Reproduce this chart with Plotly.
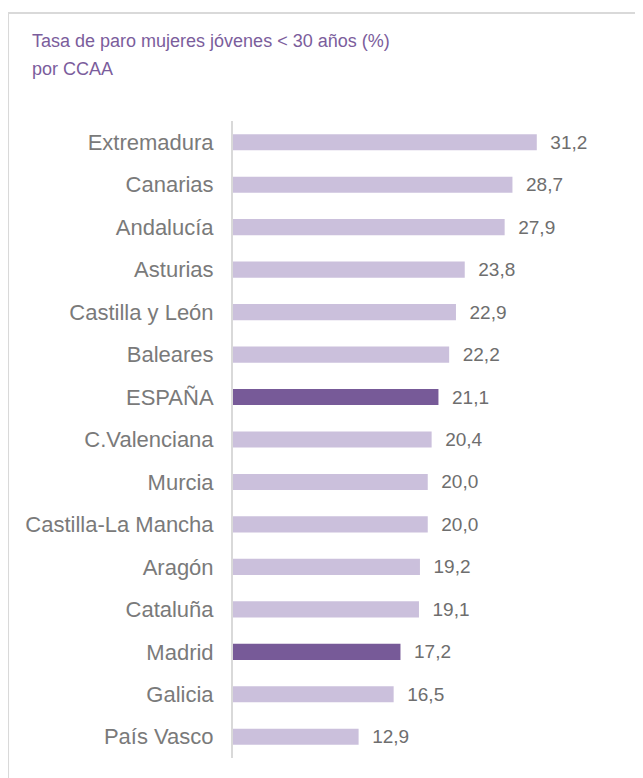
import plotly.graph_objects as go

# Comunidades autónomas (de arriba a abajo)
regions = ['Extremadura', 'Canarias', 'Andalucía', 'Asturias', 'Castilla y León',
           'Baleares', 'ESPAÑA', 'C.Valenciana', 'Murcia', 'Castilla-La Mancha',
           'Aragón', 'Cataluña', 'Madrid', 'Galicia', 'País Vasco']

# Tasa de paro mujeres < 30 años (%)
rate = [31.2, 28.7, 27.9, 23.8, 22.9, 22.2, 21.1, 20.4, 20.0, 20.0,
        19.2, 19.1, 17.2, 16.5, 12.9]

highlight = ['ESPAÑA', 'Madrid']

light = '#cbc0dc'
dark = '#775a98'
colors = [dark if r in highlight else light for r in regions]
labels = ['\u00a0\u00a0' + f'{v:.1f}'.replace('.', ',') for v in rate]

fig = go.Figure(go.Bar(
    x=rate,
    y=regions,
    orientation='h',
    marker=dict(color=colors, line=dict(width=0)),
    text=labels,
    textposition='outside',
    constraintext='none',
    textfont=dict(family='Liberation Sans, Arial', size=19, color='#6e6e6e'),
    cliponaxis=False,
    hoverinfo='skip',
))

# page has an 8px body margin, so the figure is shifted by 8px
fig.update_layout(
    width=635, height=770,
    margin=dict(l=225, r=40, t=113, b=20),
    paper_bgcolor='white', plot_bgcolor='white',
    bargap=0.62,
    showlegend=False,
    font=dict(family='Liberation Sans, Arial'),
    annotations=[
        dict(text='Tasa de paro mujeres jóvenes < 30 años (%)', xref='paper', yref='paper',
             x=(30 - 233) / 370, y=(758 - 41) / 637, xanchor='left', yanchor='middle',
             showarrow=False, font=dict(size=18, color='#7b5d9c')),
        dict(text='por CCAA', xref='paper', yref='paper',
             x=(30 - 233) / 370, y=(758 - 69) / 637, xanchor='left', yanchor='middle',
             showarrow=False, font=dict(size=18, color='#7b5d9c')),
    ],
    shapes=[
        dict(type='line', xref='paper', yref='paper', x0=-0.608, x1=1.2, y0=1.1695, y1=1.1695,
             line=dict(color='#d9d9d9', width=2)),
        dict(type='line', xref='paper', yref='paper', x0=-0.608, x1=-0.608, y0=1.1695, y1=-0.1,
             line=dict(color='#d9d9d9', width=2)),
    ],
)

fig.update_xaxes(range=[0, 38], visible=False, fixedrange=True)
fig.update_yaxes(
    autorange='reversed',
    showline=True, linecolor='#d9d9d9', linewidth=2,
    showgrid=False, zeroline=False,
    ticks='outside', ticklen=13, tickcolor='rgba(0,0,0,0)',
    tickfont=dict(size=22, color='#7a7a7a'),
)

fig.write_html('out.html')
